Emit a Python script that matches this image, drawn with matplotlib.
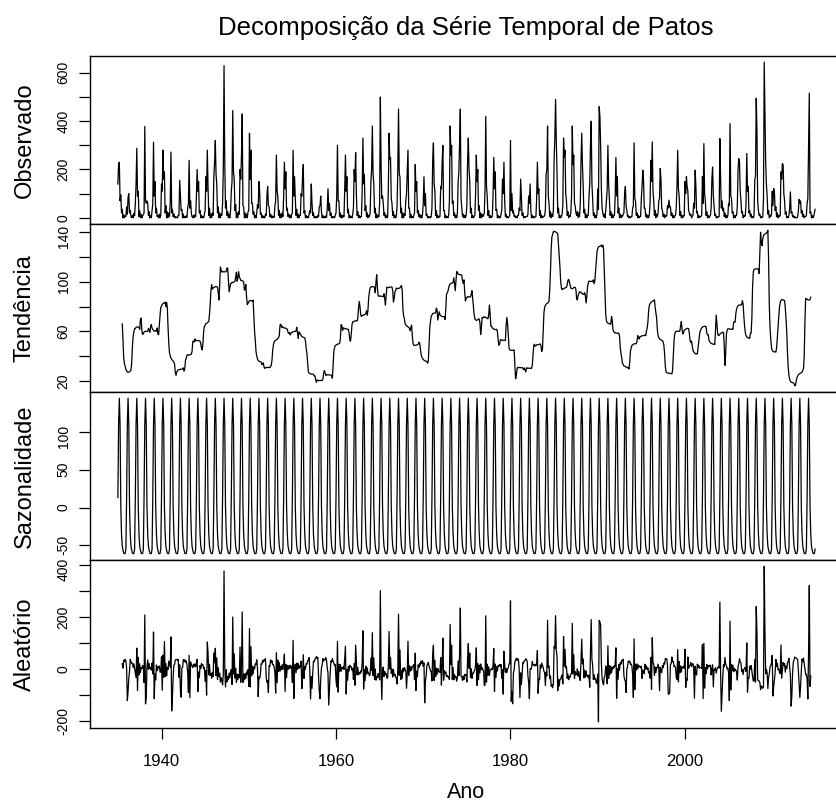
import numpy as np
import matplotlib.pyplot as plt
import matplotlib.transforms as mtransforms

# chuva mensal em Patos (mm), jan..dez, uma linha por ano
c1935 = [140, 225, 230, 70, 95, 20, 35, 0, 12, 0, 8, 5,
         45, 15, 85, 100, 20, 30, 5, 0, 10, 0, 18, 8,
         60, 140, 288, 90, 110, 5, 30, 0, 15, 0, 10, 12,
         20, 378, 70, 60, 70, 60, 10, 25, 0, 8, 0, 30,
         55, 313, 90, 150, 20, 40, 5, 10, 0, 15, 0, 12,
         140, 110, 280, 160, 190, 20, 50, 0, 25, 0, 20, 5,
         60, 272, 20, 35, 5, 15, 0, 5, 0, 3, 0, 10,
         10, 155, 90, 30, 35, 0, 15, 0, 5, 0, 8, 2,
         40, 60, 238, 40, 70, 20, 5, 0, 10, 0, 12, 5,
         90, 200, 110, 150, 20, 30, 0, 10, 0, 5, 0, 15]
c1945 = [30, 170, 110, 280, 130, 10, 40, 0, 15, 0, 20, 10,
         170, 230, 320, 180, 140, 20, 45, 0, 20, 0, 15, 10,
         60, 200, 630, 230, 40, 70, 10, 25, 0, 15, 0, 30,
         110, 150, 444, 190, 160, 30, 55, 0, 20, 0, 25, 15,
         200, 160, 260, 430, 50, 45, 0, 20, 0, 15, 0, 25,
         30, 350, 160, 280, 60, 60, 15, 25, 0, 10, 0, 20,
         55, 40, 150, 110, 15, 20, 0, 10, 0, 5, 0, 15,
         10, 90, 130, 50, 45, 5, 15, 0, 8, 0, 5, 2,
         50, 70, 260, 110, 90, 10, 30, 0, 15, 0, 20, 5,
         90, 230, 120, 190, 30, 40, 5, 15, 0, 10, 0, 15]
c1955 = [20, 280, 90, 170, 80, 10, 35, 0, 15, 0, 10, 10,
         100, 90, 170, 220, 20, 30, 0, 10, 0, 5, 0, 15,
         30, 20, 140, 60, 10, 20, 0, 5, 0, 5, 0, 10,
         5, 45, 50, 90, 25, 0, 10, 0, 5, 0, 8, 2,
         40, 120, 30, 60, 10, 20, 0, 5, 0, 5, 0, 10,
         20, 90, 300, 70, 70, 5, 20, 0, 10, 0, 10, 5,
         120, 260, 110, 170, 20, 35, 0, 10, 0, 5, 0, 15,
         40, 200, 150, 270, 100, 10, 25, 0, 10, 0, 5, 5,
         110, 330, 140, 180, 30, 50, 5, 20, 0, 10, 5, 20,
         150, 200, 380, 180, 140, 20, 40, 0, 15, 0, 10, 5]
c1965 = [60, 500, 220, 80, 90, 60, 10, 20, 0, 10, 0, 5,
         120, 350, 240, 250, 80, 60, 10, 25, 0, 10, 0, 5,
         50, 200, 450, 180, 170, 20, 40, 0, 20, 0, 15, 10,
         70, 100, 190, 280, 40, 40, 0, 15, 0, 5, 0, 10,
         20, 220, 110, 150, 20, 30, 5, 15, 0, 10, 0, 15,
         60, 170, 50, 100, 10, 15, 0, 5, 0, 5, 0, 5,
         40, 240, 310, 140, 110, 10, 30, 0, 10, 0, 5, 5,
         130, 120, 230, 300, 30, 30, 0, 10, 0, 5, 0, 10,
         70, 380, 260, 300, 60, 70, 10, 20, 0, 10, 0, 20,
         150, 190, 310, 450, 80, 40, 5, 15, 0, 10, 0, 10]
c1975 = [50, 240, 330, 200, 150, 20, 40, 0, 10, 0, 5, 10,
         100, 260, 150, 200, 30, 50, 0, 20, 0, 15, 5, 10,
         20, 120, 420, 130, 90, 10, 30, 0, 10, 0, 5, 5,
         90, 250, 120, 190, 30, 35, 0, 10, 0, 5, 0, 15,
         30, 160, 100, 230, 70, 5, 15, 0, 5, 0, 5, 10,
         320, 30, 100, 20, 30, 5, 10, 0, 5, 0, 10, 10,
         40, 30, 160, 80, 10, 20, 0, 5, 0, 5, 5, 5,
         15, 90, 60, 140, 30, 0, 10, 0, 5, 0, 5, 5,
         80, 230, 100, 120, 10, 30, 0, 10, 0, 5, 5, 10,
         30, 180, 200, 380, 90, 60, 5, 25, 0, 15, 5, 30]
c1985 = [240, 330, 490, 320, 190, 20, 40, 0, 10, 0, 5, 15,
         50, 330, 250, 280, 100, 70, 10, 25, 0, 10, 5, 20,
         90, 380, 220, 260, 60, 50, 20, 10, 25, 0, 20, 5,
         60, 230, 350, 220, 130, 20, 35, 0, 15, 0, 10, 10,
         90, 140, 300, 400, 140, 80, 10, 20, 0, 10, 0, 15,
         120, 35, 460, 420, 300, 120, 40, 20, 5, 15, 0, 30,
         70, 120, 300, 140, 80, 10, 25, 0, 15, 0, 10, 10,
         90, 250, 90, 170, 20, 40, 0, 15, 0, 10, 5, 15,
         20, 100, 130, 50, 30, 5, 10, 0, 5, 0, 5, 5,
         40, 50, 310, 80, 70, 10, 20, 0, 10, 0, 5, 5]
c1995 = [80, 130, 197, 156, 40, 40, 5, 15, 0, 10, 0, 15,
         60, 238, 150, 314, 110, 70, 10, 30, 0, 15, 5, 20,
         70, 80, 204, 156, 40, 30, 5, 15, 0, 10, 5, 10,
         50, 40, 73, 45, 45, 10, 20, 0, 10, 0, 8, 10,
         40, 130, 279, 120, 90, 10, 25, 0, 10, 0, 8, 8,
         150, 100, 170, 128, 110, 30, 20, 10, 15, 0, 5, 10,
         60, 40, 197, 130, 20, 25, 0, 10, 0, 5, 5, 10,
         170, 60, 307, 100, 70, 10, 25, 0, 10, 0, 5, 10,
         40, 160, 210, 90, 50, 10, 15, 0, 5, 0, 5, 5,
         328, 160, 40, 70, 30, 40, 5, 20, 0, 10, 0, 10]
c2005 = [60, 50, 390, 90, 80, 20, 25, 0, 10, 0, 10, 10,
         50, 200, 245, 230, 110, 70, 20, 25, 0, 10, 5, 10,
         60, 266, 110, 130, 20, 30, 5, 15, 0, 5, 0, 10,
         160, 170, 495, 362, 70, 30, 10, 15, 0, 5, 0, 5,
         80, 644, 428, 230, 140, 90, 15, 30, 0, 10, 5, 15,
         110, 50, 121, 110, 30, 45, 5, 20, 0, 10, 5, 10,
         190, 160, 224, 220, 100, 70, 15, 25, 0, 5, 0, 10,
         40, 107, 20, 25, 5, 10, 0, 5, 0, 0, 0, 5,
         30, 76, 60, 70, 20, 30, 5, 15, 0, 5, 5, 10,
         60, 80, 293, 516, 20, 25, 0, 10, 0, 5, 20, 35]

inicio = 1935
nomes = ['Observado', 'Tendência', 'Sazonalidade', 'Aleatório']
ticks_y = [[0, 100, 200, 300, 400, 500, 600],
           [20, 40, 60, 80, 100, 120, 140],
           [-50, 0, 50, 100],
           [-200, -100, 0, 100, 200, 300, 400]]
rotulos_y = [[0, 200, 400, 600],
             [20, 60, 100, 140],
             [-50, 0, 50, 100],
             [-200, 0, 200, 400]]
anos_x = [1940, 1960, 1980, 2000]

plt.rcParams['font.family'] = 'Liberation Sans'


def decompor(x, f=12):
    # decomposicao aditiva com media movel centrada 2x12
    w = np.r_[0.5, np.ones(f - 1), 0.5] / f
    tend = np.full(len(x), np.nan)
    tend[f // 2:len(x) - f // 2] = np.convolve(x, w, mode='valid')
    det = x - tend
    fs = np.array([np.nanmean(det[i::f]) for i in range(f)])
    fs = fs - fs.mean()
    saz = np.tile(fs, len(x) // f)
    return tend, saz, x - tend - saz


chuva = np.array(c1935 + c1945 + c1955 + c1965 + c1975 + c1985 + c1995 + c2005, float)
tend, saz, alea = decompor(chuva)
t = inicio + np.arange(len(chuva)) / 12
span = t[-1] - t[0]

W, H = 836, 810
esq, larg, alt = 90, 753, 168
topos = [56, 224, 392, 560]

fig = plt.figure(figsize=(W / 100, H / 100), dpi=100)
# rotulo do topo de cada painel desce um pouco para nao encostar no de cima
desce = mtransforms.ScaledTranslation(0, -3 / 72, fig.dpi_scale_trans)

for i, serie in enumerate([chuva, tend, saz, alea]):
    ax = fig.add_axes([esq / W, 1 - (topos[i] + alt) / H, larg / W, alt / H])
    ax.plot(t, serie, color='black', lw=0.9)
    ax.set_xlim(t[0] - 0.04 * span, t[-1] + 0.04 * span)
    ax.margins(y=0.04)
    ax.autoscale_view()
    lo, hi = ax.get_ylim()
    tk = [v for v in ticks_y[i] if lo <= v <= hi]
    ax.set_yticks(tk)
    ax.set_yticklabels([str(v) if v in rotulos_y[i] else '' for v in tk],
                       rotation=90, va='center')
    ax.set_ylim(lo, hi)
    ax.tick_params(axis='y', direction='out', length=8, width=0.9,
                   labelsize=10, pad=6)
    if i > 0:
        topo = ax.yaxis.get_major_ticks()[len(tk) - 1].label1
        topo.set_transform(topo.get_transform() + desce)
    ax.set_xticks(anos_x)
    if i < 3:
        ax.tick_params(axis='x', bottom=False, labelbottom=False)
    else:
        ax.tick_params(axis='x', direction='out', length=8, width=0.9,
                       labelsize=12, pad=11)
    for s in ax.spines.values():
        s.set_linewidth(1.0)
    fig.text(25 / W, 1 - (topos[i] + alt / 2) / H, nomes[i], rotation=90,
             ha='center', va='center', fontsize=17)

fig.text(466 / W, 1 - 28 / H, 'Decomposição da Série Temporal de Patos',
         ha='center', va='center', fontsize=18.5)
fig.text(466 / W, 1 - 793 / H, 'Ano', ha='center', va='center', fontsize=15.5)

fig.savefig('out.png', dpi=100)
